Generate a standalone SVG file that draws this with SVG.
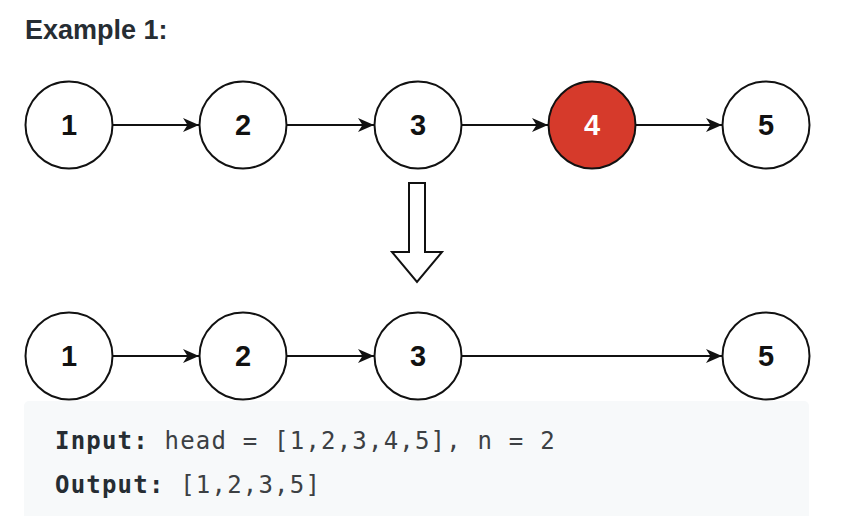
<svg xmlns="http://www.w3.org/2000/svg" width="850" height="516" viewBox="0 0 850 516">
<style>
.node circle{fill:#ffffff;stroke:#111111;stroke-width:2}
.node text{font-family:"Liberation Sans",Arial,sans-serif;font-weight:bold;font-size:29px;text-anchor:middle;fill:#111111}
.node.red circle{fill:#d63a2b}
.node.red text{fill:#ffffff}
.edge{stroke:#111111;stroke-width:2;fill:none;marker-end:url(#ah)}
.title{font-family:"Liberation Sans",Arial,sans-serif;font-weight:bold;font-size:27px;fill:#262d33}
.code{font-family:"DejaVu Sans Mono",monospace;font-size:24px;fill:#3c4043;letter-spacing:1.2px}
.code .b{font-weight:bold;fill:#262d33}
</style>
<defs>
<marker id="ah" markerUnits="userSpaceOnUse" markerWidth="18" markerHeight="16" viewBox="-17 -8 18 16" refX="0" refY="0" orient="auto">
<path d="M0,0 L-16,-7 L-11.5,0 L-16,7 Z" fill="#111111"/>
</marker>
</defs>
<rect width="850" height="516" fill="#ffffff"/>
<text class="title" x="25" y="39">Example 1:</text>

<g id="connectors">
<line class="edge" x1="113" y1="125" x2="199" y2="125"/>
<line class="edge" x1="287" y1="125" x2="374" y2="125"/>
<line class="edge" x1="462" y1="125" x2="548" y2="125"/>
<line class="edge" x1="636" y1="125" x2="722" y2="125"/>
<line class="edge" x1="113" y1="356" x2="199" y2="356"/>
<line class="edge" x1="287" y1="356" x2="374" y2="356"/>
<line class="edge" x1="462" y1="356" x2="722" y2="356"/>
</g>

<g id="transform-arrow">
<polygon points="409,183 425,183 425,252 442,252 417,282 392,252 409,252" fill="#ffffff" stroke="#111111" stroke-width="2" stroke-linejoin="miter"/>
</g>

<g id="top-1" class="node"><circle cx="69" cy="125" r="43.5"/><text x="69" y="135">1</text></g>
<g id="top-2" class="node"><circle cx="243" cy="125" r="43.5"/><text x="243" y="135">2</text></g>
<g id="top-3" class="node"><circle cx="418" cy="125" r="43.5"/><text x="418" y="135">3</text></g>
<g id="top-4" class="node red"><circle cx="592" cy="125" r="43.5"/><text x="592" y="135">4</text></g>
<g id="top-5" class="node"><circle cx="766" cy="125" r="43.5"/><text x="766" y="135">5</text></g>

<g id="bottom-1" class="node"><circle cx="69" cy="356" r="43.5"/><text x="69" y="366">1</text></g>
<g id="bottom-2" class="node"><circle cx="243" cy="356" r="43.5"/><text x="243" y="366">2</text></g>
<g id="bottom-3" class="node"><circle cx="418" cy="356" r="43.5"/><text x="418" y="366">3</text></g>
<g id="bottom-5" class="node"><circle cx="766" cy="356" r="43.5"/><text x="766" y="366">5</text></g>

<g id="code-block">
<path d="M24,406 a5,5 0 0 1 5,-5 L804,401 a5,5 0 0 1 5,5 L809,516 L24,516 Z" fill="#f7f9fa"/>
<text class="code" x="55" y="449"><tspan class="b">Input:</tspan> head = [1,2,3,4,5], n = 2</text>
<text class="code" x="55" y="493"><tspan class="b">Output:</tspan> [1,2,3,5]</text>
</g>
</svg>
